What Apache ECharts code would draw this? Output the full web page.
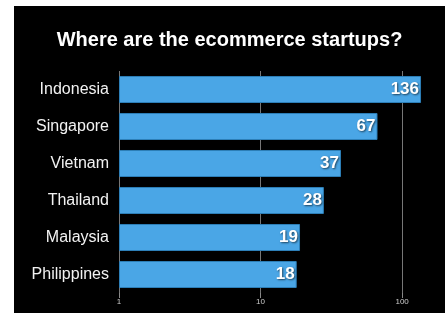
<!DOCTYPE html>
<html><head><meta charset="utf-8">
<script src="https://cdn.jsdelivr.net/npm/echarts@6/dist/echarts.min.js"></script>
<style>html,body{margin:0;padding:0;background:#fff;}#c{position:absolute;left:14px;top:6px;width:431px;height:307px;background:#000;}</style>
</head><body><div id="c"></div>
<script>
const titleText = 'Where are the ecommerce startups?';
const countries = ['Indonesia','Singapore','Vietnam','Thailand','Malaysia','Philippines'];
const startups = [136, 67, 37, 28, 19, 18];
const tickValues = [1, 10, 100];
const FONT = '"Liberation Sans", Arial, sans-serif';
const chart = echarts.init(document.getElementById('c'));
chart.setOption({
  backgroundColor: '#000',
  animation: false,
  title: {
    text: titleText, left: 'center', top: 19,
    textStyle: {color: '#fff', fontFamily: FONT, fontWeight: 'bold', fontSize: 20}
  },
  grid: {left: 105, right: 9, top: 65, bottom: 20},
  xAxis: {
    type: 'log', min: 1, max: 173.5, logBase: 10,
    axisLine: {show: false},
    axisTick: {show: true, length: 5, lineStyle: {color: '#888'}, customValues: tickValues},
    axisLabel: {color: '#ccc', fontSize: 8, fontFamily: FONT, margin: 5, customValues: tickValues},
    splitLine: {show: true, lineStyle: {color: '#777', width: 1}}
  },
  yAxis: {
    type: 'category', data: countries, inverse: true,
    axisLine: {show: false}, axisTick: {show: false},
    axisLabel: {color: '#f2f2f2', fontSize: 16, fontFamily: FONT, margin: 10}
  },
  series: [{
    type: 'bar', data: startups, barCategoryGap: '27%',
    itemStyle: {color: '#4aa6e6', borderColor: '#2d7fb8', borderWidth: 1},
    label: {show: true, position: 'insideRight', distance: 2, color: '#fff',
      fontFamily: FONT, fontWeight: 'bold', fontSize: 17,
      textShadowColor: 'rgba(0,0,0,0.6)', textShadowBlur: 2, textShadowOffsetX: 1, textShadowOffsetY: 1}
  }]
});
</script></body></html>
